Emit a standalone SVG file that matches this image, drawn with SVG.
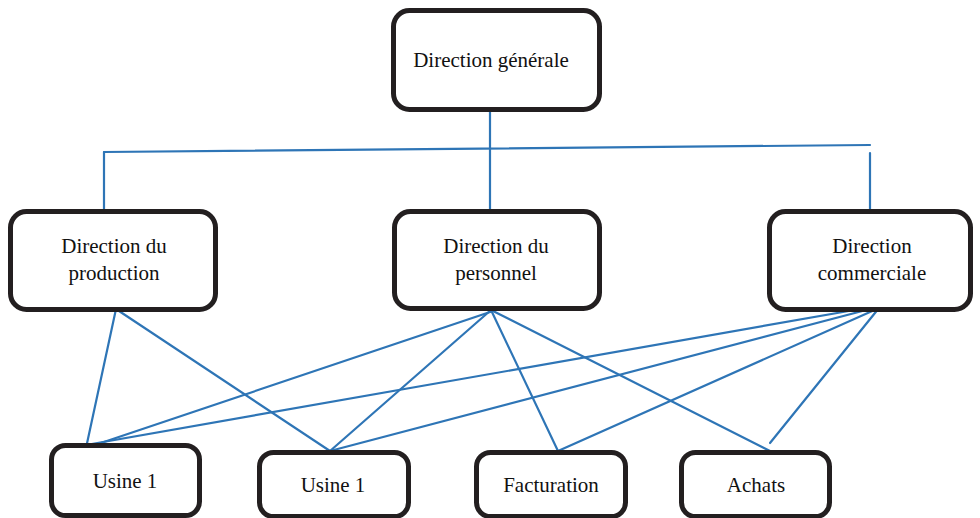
<svg xmlns="http://www.w3.org/2000/svg" width="980" height="518" viewBox="0 0 980 518">
  <style>
    .box { fill: #ffffff; stroke: #231f20; stroke-width: 5; }
    .lbl { font-family: "Liberation Serif", "DejaVu Serif", serif; font-size: 21px; fill: #111111; text-anchor: middle; }
    .link { stroke: #2e75b6; stroke-width: 2.2; fill: none; stroke-linecap: round; }
  </style>
  <rect width="980" height="518" fill="#ffffff"/>

  <!-- connectors -->
  <g id="connectors">
    <!-- hierarchy bus -->
    <line class="link" x1="490" y1="112" x2="490" y2="210"/>
    <line class="link" x1="104" y1="152" x2="870" y2="145"/>
    <line class="link" x1="104" y1="152" x2="104" y2="210"/>
    <line class="link" x1="870" y1="153" x2="870" y2="210"/>
    <!-- production -->
    <line class="link" x1="116" y1="309" x2="86" y2="448"/>
    <line class="link" x1="116" y1="309" x2="330" y2="451"/>
    <!-- personnel -->
    <line class="link" x1="502" y1="308" x2="86" y2="448"/>
    <line class="link" x1="491" y1="310" x2="330" y2="451"/>
    <line class="link" x1="491" y1="310" x2="558" y2="451"/>
    <line class="link" x1="491" y1="310" x2="770" y2="451"/>
    <!-- commerciale -->
    <line class="link" x1="860" y1="309" x2="86" y2="445"/>
    <line class="link" x1="870" y1="309" x2="330" y2="451"/>
    <line class="link" x1="879" y1="308" x2="558" y2="451"/>
    <line class="link" x1="879" y1="308" x2="770" y2="443"/>
  </g>

  <g id="direction-generale">
    <rect class="box" x="393.5" y="10.5" width="206" height="99" rx="16"/>
    <text class="lbl" x="491" y="67">Direction générale</text>
  </g>

  <g id="direction-production">
    <rect class="box" x="10.5" y="211.5" width="205" height="98" rx="16"/>
    <text class="lbl" x="114" y="253">Direction du</text>
    <text class="lbl" x="114" y="280">production</text>
  </g>

  <g id="direction-personnel">
    <rect class="box" x="394.5" y="211.5" width="205" height="97" rx="16"/>
    <text class="lbl" x="496" y="253">Direction du</text>
    <text class="lbl" x="496" y="280">personnel</text>
  </g>

  <g id="direction-commerciale">
    <rect class="box" x="769.5" y="211.5" width="201" height="98" rx="16"/>
    <text class="lbl" x="872" y="253">Direction</text>
    <text class="lbl" x="872" y="280">commerciale</text>
  </g>

  <g id="usine-1a">
    <rect class="box" x="51.5" y="445.5" width="148" height="70" rx="14"/>
    <text class="lbl" x="125" y="488">Usine 1</text>
  </g>

  <g id="usine-1b">
    <rect class="box" x="259.5" y="452.5" width="149" height="64" rx="14"/>
    <text class="lbl" x="333" y="492">Usine 1</text>
  </g>

  <g id="facturation">
    <rect class="box" x="476.5" y="452.5" width="149" height="64" rx="14"/>
    <text class="lbl" x="551" y="492">Facturation</text>
  </g>

  <g id="achats">
    <rect class="box" x="681.5" y="452.5" width="148" height="64" rx="14"/>
    <text class="lbl" x="756" y="492">Achats</text>
  </g>
</svg>
